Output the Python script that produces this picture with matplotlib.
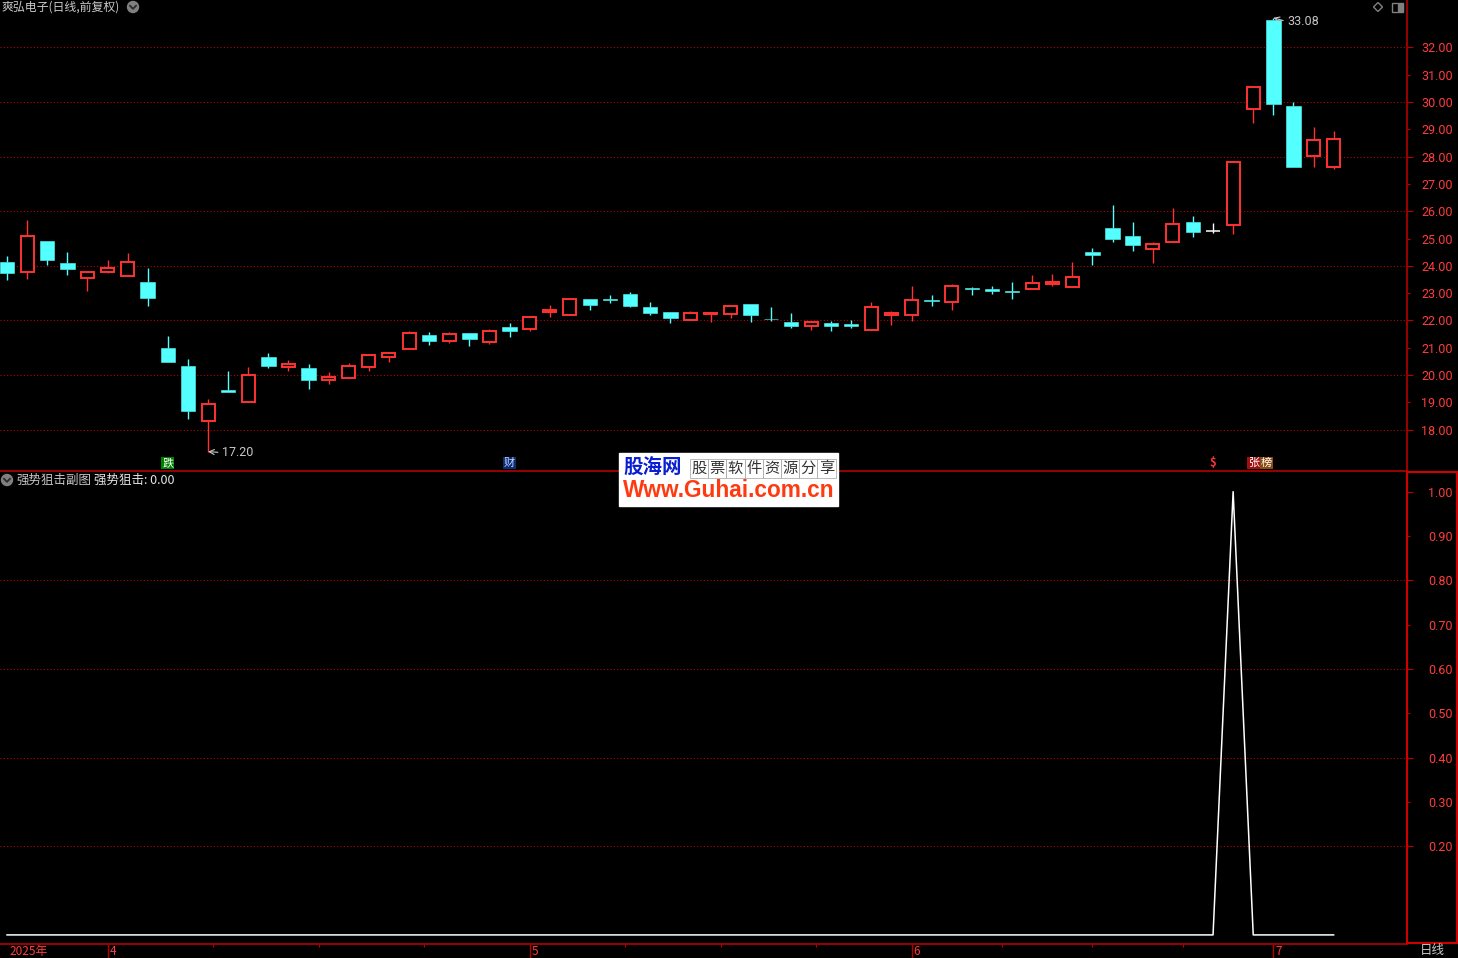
import numpy as np
import matplotlib
matplotlib.use('Agg')
import matplotlib.pyplot as plt
import matplotlib.transforms as mtransforms
from matplotlib.patches import Rectangle, Circle, Polygon
from matplotlib.lines import Line2D

# 字体: 中文用 Noto Sans CJK SC, 其他字符回退到 DejaVu Sans
plt.rcParams['font.family'] = ['Noto Sans CJK SC', 'DejaVu Sans']

# 数据 (日线, 前复权)
stock_title = '爽弘电子(日线,前复权)'
indicator_name = '强势狙击副图'
indicator_line = '强势狙击'

opens = [24.14, 23.78, 24.91, 24.10, 23.56, 23.78, 23.64, 23.41, 20.99, 20.33,
         18.33, 19.45, 19.00, 20.66, 20.28, 20.26, 19.83, 19.90, 20.30, 20.67,
         20.96, 21.47, 21.26, 21.54, 21.22, 21.76, 21.70, 22.32, 22.21, 22.77,
         22.78, 22.97, 22.49, 22.31, 22.03, 22.25, 22.25, 22.60, 22.06, 21.94,
         21.81, 21.90, 21.87, 21.66, 22.21, 22.21, 22.75, 22.68, 23.19, 23.17,
         23.08, 23.14, 23.35, 23.21, 24.49, 25.38, 25.09, 24.60, 24.86, 25.60,
         25.26, 25.48, 29.73, 32.99, 29.85, 28.01, 27.61]
highs = [24.36, 25.68, 24.91, 24.50, 23.81, 24.21, 24.47, 23.92, 21.43, 20.59,
         19.12, 20.15, 20.29, 20.81, 20.55, 20.40, 20.11, 20.45, 20.72, 20.80,
         21.61, 21.57, 21.57, 21.54, 21.68, 21.90, 22.11, 22.56, 22.77, 22.77,
         22.92, 23.03, 22.67, 22.31, 22.34, 22.31, 22.56, 22.60, 22.49, 22.27,
         21.99, 21.99, 22.01, 22.67, 22.34, 23.26, 22.93, 23.33, 23.22, 23.26,
         23.41, 23.67, 23.70, 24.14, 24.65, 26.23, 25.60, 24.87, 26.12, 25.82,
         25.57, 27.79, 30.54, 33.08, 29.99, 29.08, 28.94]
lows = [23.48, 23.53, 24.04, 23.66, 23.09, 23.72, 23.64, 22.53, 20.48, 18.39,
        17.20, 19.37, 19.00, 20.27, 20.16, 19.50, 19.68, 19.88, 20.16, 20.49,
        20.96, 21.11, 21.17, 21.06, 21.14, 21.39, 21.61, 22.12, 22.21, 22.38,
        22.65, 22.49, 22.20, 21.92, 22.03, 21.95, 22.09, 21.95, 21.99, 21.73,
        21.66, 21.62, 21.72, 21.66, 21.84, 21.99, 22.54, 22.39, 22.94, 22.98,
        22.79, 23.14, 23.27, 23.21, 24.03, 24.87, 24.54, 24.10, 24.86, 25.05,
        25.21, 25.17, 29.24, 29.53, 27.63, 27.63, 27.55]
closes = [23.75, 25.09, 24.21, 23.88, 23.77, 23.92, 24.14, 22.82, 20.48, 18.68,
          18.94, 19.38, 19.99, 20.34, 20.39, 19.83, 19.92, 20.33, 20.72, 20.80,
          21.53, 21.26, 21.49, 21.32, 21.60, 21.62, 22.11, 22.38, 22.77, 22.57,
          22.76, 22.54, 22.28, 22.10, 22.26, 22.27, 22.53, 22.21, 22.04, 21.81,
          21.94, 21.81, 21.81, 22.48, 22.27, 22.74, 22.73, 23.25, 23.17, 23.09,
          23.06, 23.37, 23.41, 23.59, 24.41, 24.98, 24.76, 24.79, 25.52, 25.25,
          25.26, 27.79, 30.54, 29.93, 27.63, 28.59, 28.63]
signal = [0, 0, 0, 0, 0, 0, 0, 0, 0, 0,
          0, 0, 0, 0, 0, 0, 0, 0, 0, 0,
          0, 0, 0, 0, 0, 0, 0, 0, 0, 0,
          0, 0, 0, 0, 0, 0, 0, 0, 0, 0,
          0, 0, 0, 0, 0, 0, 0, 0, 0, 0,
          0, 0, 0, 0, 0, 0, 0, 0, 0, 0,
          0, 1, 0, 0, 0, 0, 0]

month_labels = ['2025年', '4', '5', '6', '7']
month_starts = [0, 5, 26, 45, 63]

event_marks = ['跌', '财', '$', '张', '榜']
event_days = [8, 25, 60, 62, 62]

price_ticks = list(range(18, 33))
sub_ticks = [0.2, 0.3, 0.4, 0.5, 0.6, 0.7, 0.8, 0.9, 1.0]

# 颜色
RED = '#FF3232'
CYAN = '#54FFFF'
AXIS_RED = '#B40000'
GRID_RED = '#C80000'
LABEL_RED = '#FF3C3C'
GRAY = '#C8C8C8'

W, H = 1458, 958
fig = plt.figure(figsize=(W / 100, H / 100), dpi=100, facecolor='black')
# 像素坐标 (左上角为原点)
PX = mtransforms.Affine2D().scale(1 / W, -1 / H).translate(0, 1) + fig.transFigure

ax = fig.add_axes([0, 487 / H, 1407 / W, 471 / H], facecolor='black')
ax2 = fig.add_axes([0, 14 / H, 1407 / W, 472 / H], facecolor='black')

n = len(opens)
idx = np.arange(n)
o, hi, lo, c = (np.array(v, dtype=float) for v in (opens, highs, lows, closes))
up = c > o
down = c < o
flat = c == o
body_lo = np.minimum(o, c)
body_hi = np.maximum(o, c)
cols = np.where(up, RED, np.where(down, CYAN, 'white'))

# K线
ax.vlines(idx, lo, body_lo, colors=cols, lw=1.0, zorder=2)
ax.vlines(idx, body_hi, hi, colors=cols, lw=1.0, zorder=2)
ax.bar(idx[down], (body_hi - body_lo)[down], bottom=body_lo[down], width=0.72,
       color=CYAN, edgecolor=CYAN, lw=0.4, zorder=3)
ax.bar(idx[up], (body_hi - body_lo)[up], bottom=body_lo[up], width=0.65,
       facecolor='black', edgecolor=RED, lw=1.4, zorder=3)
ax.hlines(c[flat], idx[flat] - 0.36, idx[flat] + 0.36, colors='white', lw=1.1, zorder=3)

ax.set_xlim(-0.35, 69.65)
ax.set_ylim(16.49, 33.73)
for v in price_ticks:
    if v % 2 == 0:
        ax.axhline(v, color=GRID_RED, lw=0.75, ls=(0, (1, 2.2)), zorder=1)

# 最高/最低价标注
imax = int(np.argmax(hi))
imin = int(np.argmin(lo))
ax.annotate(f'{hi[imax]:.2f}', xy=(imax, hi[imax]), xytext=(14, -4), textcoords='offset pixels',
            ha='left', va='center', color=GRAY, fontsize=9, family=['Roboto', 'DejaVu Sans'],
            arrowprops=dict(arrowstyle='->', color=GRAY, lw=0.8, shrinkA=1, shrinkB=0, relpos=(0, 0.5)))
ax.annotate(f'{lo[imin]:.2f}', xy=(imin, lo[imin]), xytext=(14, -1), textcoords='offset pixels',
            ha='left', va='center', color=GRAY, fontsize=9, family=['Roboto', 'DejaVu Sans'],
            arrowprops=dict(arrowstyle='->', color=GRAY, lw=0.8, shrinkA=1, shrinkB=0, relpos=(0, 0.5)))

# 事件标记
mark_style = {
    '跌': dict(color='white', bbox=dict(boxstyle='square,pad=0.08', fc='#008000', ec='none')),
    '财': dict(color='#BFD8FF', bbox=dict(boxstyle='square,pad=0.08', fc='#0E2A70', ec='none')),
    '$': dict(color=RED, fontweight='bold'),
    '张': dict(color='white', bbox=dict(boxstyle='square,pad=0.08', fc='#A01010', ec='none')),
    '榜': dict(color='white', bbox=dict(boxstyle='square,pad=0.08', fc='#8B4A10', ec='none')),
}
seen = {}
for m, d in zip(event_marks, event_days):
    k = seen.get(d, 0)
    seen[d] = k + 1
    ax.annotate(m, xy=(d, 0), xycoords=('data', 'axes fraction'), xytext=(13 * k, 8),
                textcoords='offset pixels', ha='center', va='center', fontsize=8, zorder=5,
                **mark_style[m])

# 主图坐标轴
ax.yaxis.tick_right()
ax.set_yticks([v for v in price_ticks if v % 2 == 0])
ax.set_yticklabels([f'{v:.2f}' for v in price_ticks if v % 2 == 0])
ax.set_yticks([v for v in price_ticks if v % 2 == 1], minor=True)
ax.set_yticklabels([f'{v:.2f}' for v in price_ticks if v % 2 == 1], minor=True)
ax.set_xticks([])

# 副图
ax2.plot(idx, signal, color='white', lw=1.1, zorder=3)
ax2.set_xlim(-0.35, 69.65)
ax2.set_ylim(-0.0205, 1.0444)
for v in sub_ticks:
    if round(v * 10) % 2 == 0 and v < 1:
        ax2.axhline(v, color=GRID_RED, lw=0.75, ls=(0, (1, 2.2)), zorder=1)
ax2.yaxis.tick_right()
ax2.set_yticks([v for v in sub_ticks if round(v * 10) % 2 == 0])
ax2.set_yticklabels([f'{v:.2f}' for v in sub_ticks if round(v * 10) % 2 == 0])
ax2.set_yticks([v for v in sub_ticks if round(v * 10) % 2 == 1], minor=True)
ax2.set_yticklabels([f'{v:.2f}' for v in sub_ticks if round(v * 10) % 2 == 1], minor=True)

for a in (ax, ax2):
    a.tick_params(axis='y', which='major', direction='out', length=4.3, width=0.8,
                  color=AXIS_RED, labelcolor=LABEL_RED, labelsize=9, pad=28.8)
    a.tick_params(axis='y', which='minor', direction='out', length=2, width=0.8,
                  color=AXIS_RED, labelcolor=LABEL_RED, labelsize=9, pad=31.1)
    for lab in a.get_yticklabels(which='both'):
        lab.set_ha('right')
        lab.set_family(['Roboto', 'DejaVu Sans'])
    for s in ('left', 'top'):
        a.spines[s].set_visible(False)
    for s in ('right', 'bottom'):
        a.spines[s].set_color(AXIS_RED)
        a.spines[s].set_linewidth(1.2)

# 时间轴
minor_x = []
for a_, b_ in zip(month_starts[1:-1], month_starts[2:]):
    minor_x += [a_ + (b_ - a_) * k / 4 for k in (1, 2, 3)]
ax2.set_xticks(month_starts[1:])
ax2.set_xticks(minor_x, minor=True)
ax2.tick_params(axis='x', which='major', direction='out', length=10, width=1,
                color=AXIS_RED, labelbottom=False)
ax2.tick_params(axis='x', which='minor', direction='out', length=2, width=0.8,
                color=AXIS_RED, labelbottom=False)
for lbl, pos in zip(month_labels, month_starts):
    ax2.annotate(lbl, xy=(pos, 0), xycoords=('data', 'axes fraction'), xytext=(2, -1),
                 textcoords='offset pixels', ha='left', va='top', color=LABEL_RED, fontsize=8.5)

# 副图右侧红框
fig.add_artist(Rectangle((1407.5, 472), 49.5, 471.5, transform=PX, fill=False,
                         edgecolor='#D00000', lw=1.5))
fig.text(1420, 951, '日线', transform=PX, color=GRAY, fontsize=9, va='center', ha='left')

# 标题
fig.text(2, 7, stock_title, transform=PX, color=GRAY, fontsize=8.6, va='center', ha='left')
for cx, cy in ((133, 7), (7, 480)):
    fig.add_artist(Circle((cx, cy), 5.5, transform=PX, color='#808080'))
    fig.add_artist(Line2D([cx - 3, cx, cx + 3], [cy - 1.2, cy + 1.8, cy - 1.2], transform=PX,
                          color='#2A2A2A', lw=1.3))
fig.text(16, 480, indicator_name, transform=PX, color=GRAY, fontsize=9, va='center', ha='left')
fig.text(94, 480, f'{indicator_line}: {signal[-1]:.2f}', transform=PX, color='#E6E6E6',
         fontsize=9, va='center', ha='left')

# 右上角图标
fig.add_artist(Polygon([(1378, 2.5), (1382.5, 7), (1378, 11.5), (1373.5, 7)], closed=True,
                       transform=PX, fill=False, edgecolor='#808080', lw=1))
fig.add_artist(Rectangle((1392.5, 2.5), 11, 9.5, transform=PX, fill=False,
                         edgecolor='#808080', lw=1))
fig.add_artist(Rectangle((1398, 4), 4, 6.5, transform=PX, color='#808080'))

# 水印
fig.add_artist(Rectangle((619, 453), 219, 53, transform=PX, color='white', zorder=10))
fig.text(623, 468, '股海网', transform=PX, color='#0A1ED2', fontsize=14, fontweight='bold',
         va='center', ha='left', zorder=11)
wm_chars = '股票软件资源分享'
for k, ch in enumerate(wm_chars):
    x0 = 690 + k * 18.2
    fig.add_artist(Rectangle((x0, 459), 18.2, 19, transform=PX, fill=False,
                             edgecolor='#B0B0B0', lw=0.6, zorder=11))
    fig.text(x0 + 9.1, 468.5, ch, transform=PX, color='#333333', fontsize=11,
             va='center', ha='center', zorder=12)
fig.text(729, 491, 'Www.Guhai.com.cn', transform=PX, color='#FF3A10', fontsize=16.3,
         fontweight='bold', family=['Liberation Sans', 'DejaVu Sans'],
         va='center', ha='center', zorder=11)

fig.savefig('out.png', dpi=100, facecolor='black')
